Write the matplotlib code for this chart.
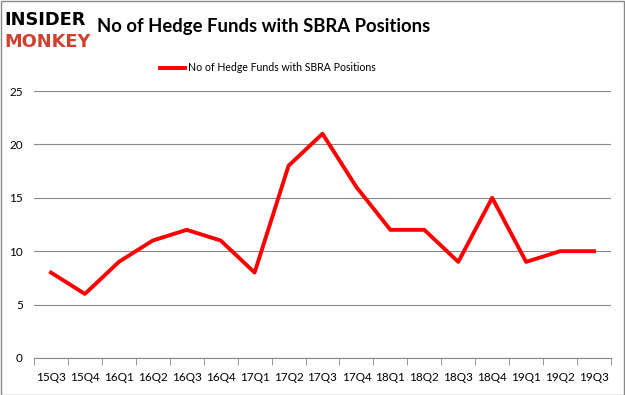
import matplotlib
matplotlib.use("Agg")
import matplotlib.pyplot as plt
from matplotlib.patches import Rectangle

quarters = ["15Q3", "15Q4", "16Q1", "16Q2", "16Q3", "16Q4", "17Q1", "17Q2", "17Q3",
            "17Q4", "18Q1", "18Q2", "18Q3", "18Q4", "19Q1", "19Q2", "19Q3"]
funds = [8, 6, 9, 11, 12, 11, 8, 18, 21, 16, 12, 12, 9, 15, 9, 10, 10]
yticks = [0, 5, 10, 15, 20, 25]

plt.rcParams["font.family"] = ["Lato", "DejaVu Sans"]

fig = plt.figure(figsize=(6.25, 3.95), dpi=100)
ax = fig.add_axes([0.0544, 0.0937, 0.9232, 0.6759])

x = list(range(len(quarters)))
ax.plot(x, funds, color="#ff0000", linewidth=2.8, label="No of Hedge Funds with SBRA Positions")

ax.set_xlim(-0.5, len(quarters) - 0.5)
ax.set_ylim(0, 25)
ax.set_yticks(yticks)
ax.set_xticks(x)
ax.set_xticklabels(quarters, fontsize=8.5)
ax.tick_params(axis="x", length=0, pad=10)
ax.tick_params(axis="y", length=0, labelsize=8.5, pad=8)
# category separators on the axis
ax.set_xticks([i - 0.5 for i in range(len(quarters) + 1)], minor=True)
ax.tick_params(axis="x", which="minor", length=5, color="#888888", direction="out")

ax.grid(axis="y", color="#888888", linewidth=0.8)
ax.set_axisbelow(True)
for s in ["top", "right", "left"]:
    ax.spines[s].set_visible(False)
ax.spines["bottom"].set_color("#888888")

ax.legend(loc="lower center", bbox_to_anchor=(0.405, 1.03), frameon=False, fontsize=7.6,
          handlelength=2.4, handletextpad=0.3)

fig.text(0.155, 0.932, "No of Hedge Funds with SBRA Positions", fontsize=13.3,
         fontweight="bold", va="center", ha="left")
fig.text(0.007, 0.95, "INSIDER", color="black", fontsize=12.8, fontweight="bold",
         fontfamily="DejaVu Sans", va="center", ha="left")
fig.text(0.007, 0.893, "MONKEY", color="#d0402c", fontsize=12.8, fontweight="bold",
         fontfamily="DejaVu Sans", va="center", ha="left")

fig.patches.append(Rectangle((0.001, 0.001), 0.997, 0.997, transform=fig.transFigure,
                             fill=False, edgecolor="#888888", linewidth=1))

fig.savefig("out.png", dpi=100)
